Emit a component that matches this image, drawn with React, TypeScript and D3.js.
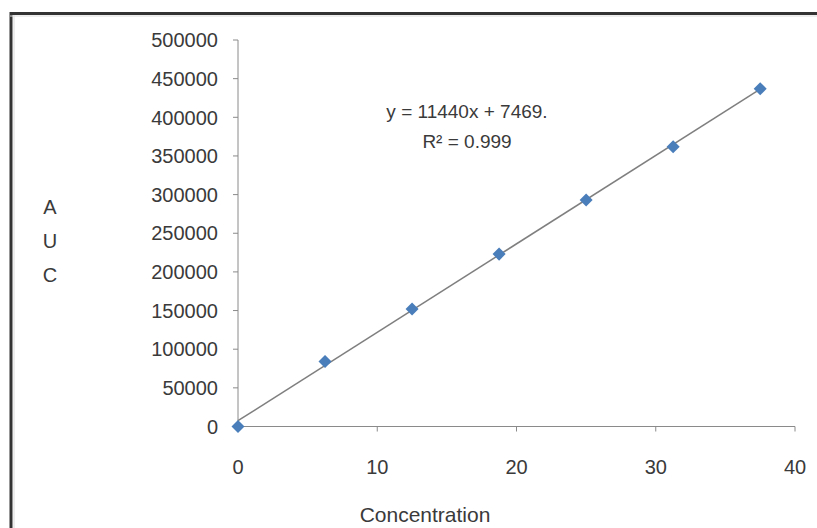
import React from "react";
import * as d3 from "d3";

const concentrations = [0, 6.25, 12.5, 18.75, 25, 31.25, 37.5];
const aucValues = [0, 84000, 152000, 223000, 293000, 362000, 437000];
const xTicks = [0, 10, 20, 30, 40];
const yTicks = [0, 50000, 100000, 150000, 200000, 250000, 300000, 350000, 400000, 450000, 500000];
const trendCoefficients = [11440, 7469];
const equationLines = ["y = 11440x + 7469.", "R² = 0.999"];
const yTitleLetters = ["A", "U", "C"];
const xTitle = "Concentration";

const W = 817;
const H = 528;
const FONT = "'Liberation Sans', Arial, sans-serif";
const TEXT = "#3a3a3a";
const AXIS = "#8a8a8a";

export default function App() {
  const x = d3.scaleLinear().domain([0, 40]).range([238, 795]);
  const y = d3.scaleLinear().domain([0, 500000]).range([426.5, 40]);
  const [slope, intercept] = trendCoefficients;
  const xMin = d3.min(concentrations) as number;
  const xMax = d3.max(concentrations) as number;
  const trend = d3.line<number>()
    .x((d) => x(d))
    .y((d) => y(slope * d + intercept))([xMin, xMax]);
  const marker = d3.symbol().type(d3.symbolSquare).size(85)();

  return (
    <svg width={W} height={H} style={{ position: "absolute", left: 0, top: 0, background: "#fff" }}>
      <rect x={0} y={0} width={W} height={H} fill="#fff" />
      {/* outer border (top + left visible) */}
      <line x1={10} y1={13.5} x2={W} y2={13.5} stroke="#333" strokeWidth={3} />
      <line x1={11} y1={12} x2={11} y2={H} stroke="#333" strokeWidth={3} />
      <line x1={10} y1={16} x2={W} y2={16} stroke="#dcdcdc" strokeWidth={1} />
      <line x1={14} y1={15} x2={14} y2={H} stroke="#dcdcdc" strokeWidth={1} />

      {/* y axis */}
      <line x1={x(0)} y1={y(0)} x2={x(0)} y2={y(500000)} stroke={AXIS} strokeWidth={1} />
      {yTicks.map((t) => (
        <g key={"y" + t}>
          <line x1={x(0) - 5} x2={x(0)} y1={y(t)} y2={y(t)} stroke={AXIS} strokeWidth={1} />
          <text x={218} y={y(t)} dy="0.36em" textAnchor="end" fontFamily={FONT} fontSize={20} fill={TEXT}>
            {t}
          </text>
        </g>
      ))}

      {/* x axis */}
      <line x1={x(0)} y1={y(0)} x2={x(40)} y2={y(0)} stroke={AXIS} strokeWidth={1} />
      {xTicks.map((t) => (
        <g key={"x" + t}>
          <line x1={x(t)} x2={x(t)} y1={y(0)} y2={y(0) + 5} stroke={AXIS} strokeWidth={1} />
          <text x={x(t)} y={467} dy="0.36em" textAnchor="middle" fontFamily={FONT} fontSize={20} fill={TEXT}>
            {t}
          </text>
        </g>
      ))}

      {/* axis titles */}
      {yTitleLetters.map((l, i) => (
        <text key={l} x={50} y={207 + i * 34} dy="0.36em" textAnchor="middle" fontFamily={FONT} fontSize={20} fill={TEXT}>
          {l}
        </text>
      ))}
      <text x={425} y={514} dy="0.36em" textAnchor="middle" fontFamily={FONT} fontSize={21} fill={TEXT}>
        {xTitle}
      </text>

      {/* trendline */}
      <path d={trend ?? ""} fill="none" stroke="#7f7f7f" strokeWidth={1.5} />

      {/* markers */}
      {concentrations.map((c, i) => (
        <path
          key={i}
          d={marker ?? ""}
          transform={`translate(${x(c)},${y(aucValues[i])}) rotate(45)`}
          fill="#4a7ebb"
        />
      ))}

      {/* equation */}
      {equationLines.map((l, i) => (
        <text key={i} x={467} y={111 + i * 30} dy="0.36em" textAnchor="middle" fontFamily={FONT} fontSize={19} fill={TEXT}>
          {l}
        </text>
      ))}
    </svg>
  );
}
